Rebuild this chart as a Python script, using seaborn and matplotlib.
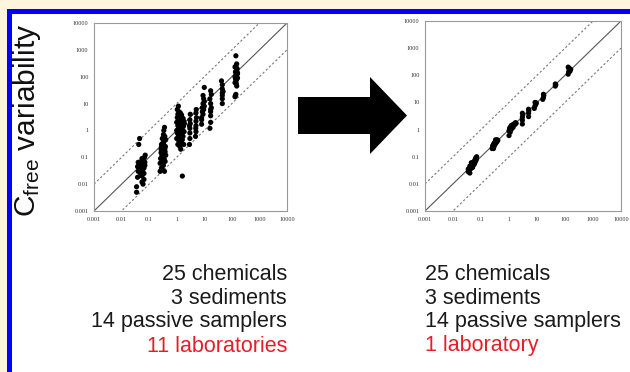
import numpy as np
import pandas as pd
import matplotlib
matplotlib.use('Agg')
import matplotlib.pyplot as plt
import seaborn as sns
from matplotlib.patches import Rectangle, Polygon

# left panel: 11 laboratories (measured vs reference Cfree)
left_x = [0.035, 0.035, 0.038, 0.04, 0.04, 0.042, 0.045, 0.045, 0.048, 0.05, 0.05, 0.05, 0.052, 0.055, 0.055, 0.055,
          0.058, 0.06, 0.06, 0.06, 0.062, 0.065, 0.065, 0.068, 0.07, 0.07, 0.072, 0.045, 0.04, 0.065, 0.038, 0.058,
          0.25, 0.25, 0.26, 0.27, 0.27, 0.28, 0.28, 0.29, 0.3, 0.3, 0.3, 0.3, 0.31, 0.32, 0.32, 0.33, 0.33, 0.34,
          0.34, 0.35, 0.35, 0.36, 0.36, 0.37, 0.37, 0.38, 0.38, 0.39, 0.4, 0.4, 0.3, 0.28, 0.32, 0.35,
          1.0, 1.0, 1.0, 1.05, 1.05, 1.05, 1.1, 1.1, 1.1, 1.15, 1.15, 1.15, 1.2, 1.2, 1.2, 1.25, 1.25, 1.25,
          1.3, 1.3, 1.3, 1.35, 1.35, 1.35, 1.4, 1.4, 1.4, 1.45, 1.45, 1.5, 1.5, 1.5, 1.55, 1.55, 1.6, 1.6, 1.6,
          1.65, 1.7, 1.7, 1.75, 1.8, 1.8, 1.85, 1.9,
          2.9, 3, 3, 3, 3.1, 3, 3.1, 2.9,
          4.8, 5, 5, 5, 5.2, 5, 5.1, 4.9,
          8, 8, 8.5, 8.5, 9, 9, 9.5, 10, 10, 9, 10, 8, 9.5,
          16, 17, 17, 17, 18, 17, 16, 18, 17, 17,
          45, 45, 45, 48, 45, 45, 42, 45,
          130, 135, 140, 150, 130, 140, 150, 160, 130, 140, 150, 160, 135, 145, 155, 130, 140, 150, 160, 140,
          150, 145, 135]
left_y = [0.005, 0.008, 0.018, 0.03, 0.045, 0.3, 0.5, 0.06, 0.025, 0.035, 0.04, 0.05, 0.07, 0.02, 0.012, 0.09,
          0.03, 0.045, 0.06, 0.01, 0.075, 0.04, 0.025, 0.1, 0.05, 0.065, 0.12, 0.04, 0.065, 0.015, 0.045, 0.055,
          0.03, 0.06, 0.09, 0.15, 0.2, 0.25, 0.04, 0.12, 0.3, 0.5, 0.08, 0.18, 0.22, 0.35, 0.1, 0.7, 0.05, 1.0,
          0.14, 0.28, 0.4, 1.3, 0.03, 0.2, 0.6, 0.07, 0.16, 0.25, 0.45, 0.12, 0.035, 0.3, 0.065, 0.09,
          0.5, 1.0, 2, 0.8, 3, 6, 0.3, 1.5, 4, 0.7, 2.5, 8, 1.2, 0.4, 5, 1.8, 0.9, 3.5,
          0.25, 1.4, 2.2, 0.6, 4.5, 1.1, 0.2, 1.7, 3, 0.5, 2.6, 0.35, 1.3, 3.8, 0.8, 2, 0.02, 0.45, 1.6,
          1.0, 2.8, 0.6, 1.4, 0.3, 2.2, 0.9, 1.8,
          0.3, 0.5, 0.8, 1.2, 1.8, 2.5, 4, 1.5,
          0.6, 0.9, 1.5, 2.2, 3, 4.5, 6, 1.2,
          1.7, 3, 5, 7, 4, 10, 15, 8, 12, 20, 40, 2.5, 6,
          1.2, 2, 3.5, 5, 7, 10, 15, 22, 30, 6,
          10, 15, 20, 28, 35, 50, 70, 25,
          18, 20, 22, 45, 60, 70, 80, 90, 100, 110, 120, 140, 150, 170, 200, 230, 250, 180, 130, 600,
          300, 55, 85]

# right panel: 1 laboratory
right_x = [0.035, 0.035, 0.038, 0.04, 0.04, 0.042, 0.045, 0.045, 0.048, 0.05, 0.05, 0.052, 0.055, 0.055, 0.058,
           0.06, 0.06, 0.062, 0.065, 0.065, 0.068, 0.07, 0.045, 0.04,
           0.25, 0.26, 0.27, 0.28, 0.29, 0.3, 0.3, 0.31, 0.32, 0.33, 0.34, 0.35, 0.36, 0.37, 0.38, 0.4, 0.28, 0.33,
           1.0, 1.0, 1.05, 1.1, 1.1, 1.2, 1.2, 1.3, 1.35, 1.4, 1.5, 1.6, 1.7, 1.8,
           3, 3, 3, 3.1, 3,
           5, 5, 5.1, 5,
           8, 8.5, 9, 9.5, 8.5,
           16, 17, 17.5, 17,
           45, 47, 45,
           130, 135, 140, 145, 150, 130, 140, 150, 160]
right_y = [0.028, 0.035, 0.03, 0.04, 0.045, 0.035, 0.05, 0.04, 0.045, 0.05, 0.04, 0.06, 0.05, 0.065, 0.055,
           0.06, 0.07, 0.08, 0.07, 0.09, 0.08, 0.1, 0.06, 0.025,
           0.2, 0.25, 0.22, 0.28, 0.3, 0.25, 0.32, 0.3, 0.35, 0.3, 0.38, 0.33, 0.4, 0.36, 0.42, 0.4, 0.2, 0.42,
           0.6, 0.9, 1.1, 0.8, 1.2, 1.0, 1.4, 1.3, 1.5, 1.2, 1.6, 1.5, 1.8, 1.7,
           1.6, 2.2, 2.8, 3.5, 4,
           3, 4, 5, 5.6,
           6, 7.5, 8.5, 9.5, 10,
           13, 15, 18, 20,
           40, 45, 48,
           110, 130, 150, 160, 140, 200, 180, 170, 165]

ticks = [0.001, 0.01, 0.1, 1, 10, 100, 1000, 10000]
tick_labels = ['0.001', '0.01', '0.1', '1', '10', '100', '1000', '10000']

left_text = ['25 chemicals', '3 sediments', '14 passive samplers', '11 laboratories']
right_text = ['25 chemicals', '3 sediments', '14 passive samplers', '1 laboratory']

sns.set_style('white')
plt.rcParams['font.family'] = ['Liberation Sans', 'DejaVu Sans']

W, H = 630, 372
fig = plt.figure(figsize=(6.3, 3.72), dpi=100)
fig.patch.set_facecolor('#fff5dc')


def px(x, y):
    # pixel (from top-left) to figure fraction
    return x / W, 1 - y / H


# white panel and blue frame (kept under the axes)
fig.patches.append(Rectangle(px(12, H), 1, (H - 14) / H, transform=fig.transFigure,
                             facecolor='white', edgecolor='none', zorder=-3))
fig.patches.append(Rectangle(px(7, 14), 1, 5 / H, transform=fig.transFigure,
                             facecolor='#0000ff', edgecolor='none', zorder=-2))
fig.patches.append(Rectangle(px(7, H), 5 / W, (H - 9) / H, transform=fig.transFigure,
                             facecolor='#0000ff', edgecolor='none', zorder=-2))


def panel(rect, xs, ys):
    ax = fig.add_axes(rect)
    ax.set_facecolor('white')
    d = pd.DataFrame({'x': xs, 'y': ys})
    lim = np.array([0.001, 10000])
    ax.plot(lim, lim, color='#555555', lw=0.8, zorder=1)
    ax.plot(lim, lim * 10, color='#777777', lw=0.8, ls=(0, (2, 2)), zorder=1)
    ax.plot(lim, lim / 10, color='#777777', lw=0.8, ls=(0, (2, 2)), zorder=1)
    sns.scatterplot(data=d, x='x', y='y', ax=ax, color='black', s=14,
                    edgecolor='none', legend=False, zorder=3)
    ax.set_xscale('log')
    ax.set_yscale('log')
    ax.set_xlim(lim)
    ax.set_ylim(lim)
    ax.set_xticks(ticks)
    ax.set_yticks(ticks)
    ax.minorticks_off()
    ax.set_xticklabels(tick_labels, family='Liberation Serif', fontsize=4.5, color='#333333')
    ax.set_yticklabels(tick_labels, family='Liberation Serif', fontsize=4.5, color='#333333')
    ax.tick_params(length=0, pad=4)
    ax.set_xlabel('')
    ax.set_ylabel('')
    for s in ax.spines.values():
        s.set_color('#999999')
        s.set_linewidth(0.8)
    return ax


panel([94 / W, 1 - 211 / H, 193 / W, 188 / H], left_x, left_y)
panel([425 / W, 1 - 211 / H, 196 / W, 190 / H], right_x, right_y)

# big arrow between the panels
arrow = [(298, 97), (370, 97), (370, 77), (407, 115.5), (370, 154), (370, 134), (298, 134)]
fig.patches.append(Polygon([px(a, b) for a, b in arrow], closed=True, transform=fig.transFigure,
                           facecolor='black', edgecolor='none', zorder=2))

fig.text(*px(27, 120), r'$\mathregular{C_{free}}$ variability', rotation=90,
         ha='center', va='center', fontsize=21.5, color='#111111')

rows_y = [275, 299, 322, 346]
for i, yy in enumerate(rows_y):
    c = '#e3202a' if i == 3 else '#1a1a1a'
    fig.text(*px(287, yy), left_text[i], ha='right', va='center', fontsize=15.5, color=c)
    fig.text(*px(425, yy), right_text[i], ha='left', va='center', fontsize=15.5, color=c)

fig.savefig('out.png', dpi=100, facecolor=fig.get_facecolor())
